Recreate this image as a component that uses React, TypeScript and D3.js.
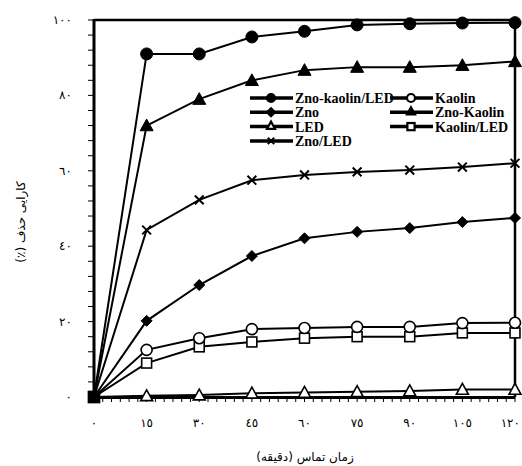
import React from "react";
import * as d3 from "d3";

const times = [0, 15, 30, 45, 60, 75, 90, 105, 120];
const xTickLabels = ["٠", "١٥", "٣٠", "٤٥", "٦٠", "٧٥", "٩٠", "١٠٥", "١٢٠"];
const yTicks = [0, 20, 40, 60, 80, 100];
const yTickLabels = ["٠", "٢٠", "٤٠", "٦٠", "٨٠", "١٠٠"];

const znoKaolinLed = [0, 91, 91, 95.5, 97, 98.7, 99, 99.2, 99.3];
const znoKaolin = [0, 72, 79, 84, 86.7, 87.5, 87.5, 88, 89];
const znoLed = [0, 44.3, 52.3, 57.5, 58.9, 59.7, 60.2, 61, 62];
const zno = [0, 20.2, 29.7, 37.4, 42.1, 43.8, 44.8, 46.4, 47.5];
const kaolin = [0, 12.5, 15.6, 18, 18.3, 18.6, 18.6, 19.6, 19.7];
const kaolinLed = [0, 9, 13.3, 14.6, 15.6, 16, 16, 17, 17];
const led = [0, 0.3, 0.5, 1, 1.2, 1.4, 1.6, 2, 2];

type Shape = "circle" | "diamond" | "triangle" | "cross" | "square";
interface Series { name: string; values: number[]; shape: Shape; filled: boolean; }

const series: Series[] = [
  { name: "LED", values: led, shape: "triangle", filled: false },
  { name: "Kaolin/LED", values: kaolinLed, shape: "square", filled: false },
  { name: "Kaolin", values: kaolin, shape: "circle", filled: false },
  { name: "Zno", values: zno, shape: "diamond", filled: true },
  { name: "Zno/LED", values: znoLed, shape: "cross", filled: true },
  { name: "Zno-Kaolin", values: znoKaolin, shape: "triangle", filled: true },
  { name: "Zno-kaolin/LED", values: znoKaolinLed, shape: "circle", filled: true },
];

const legendCol1 = ["Zno-kaolin/LED", "Zno", "LED", "Zno/LED"];
const legendCol2 = ["Kaolin", "Zno-Kaolin", "Kaolin/LED"];

const W = 522, H = 466;
const x = d3.scaleLinear().domain([0, 120]).range([94, 515]);
const y = d3.scaleLinear().domain([0, 100]).range([397, 20]);

function Marker({ shape, filled, cx, cy, s, sw0 }: { shape: Shape; filled: boolean; cx: number; cy: number; s: number; sw0?: number }) {
  const fill = filled ? "#000" : "#fff";
  const sw = sw0 ?? (filled ? 1 : 1.6);
  if (shape === "circle") return <circle cx={cx} cy={cy} r={s} fill={fill} stroke="#000" strokeWidth={sw} />;
  if (shape === "square") return <rect x={cx - s * 0.9} y={cy - s * 0.9} width={s * 1.8} height={s * 1.8} fill={fill} stroke="#000" strokeWidth={sw} />;
  if (shape === "diamond") return <path d={`M${cx},${cy - s}L${cx + s},${cy}L${cx},${cy + s}L${cx - s},${cy}Z`} fill={fill} stroke="#000" strokeWidth={sw} />;
  if (shape === "triangle") return <path d={`M${cx},${cy - s}L${cx + s},${cy + s * 0.8}L${cx - s},${cy + s * 0.8}Z`} fill={fill} stroke="#000" strokeWidth={sw} />;
  const k = s * 0.8;
  return <path d={`M${cx - k},${cy - k}L${cx + k},${cy + k}M${cx - k},${cy + k}L${cx + k},${cy - k}`} stroke="#000" strokeWidth={2} fill="none" />;
}

const markerSize: Record<string, number> = {
  "Zno-kaolin/LED": 6, "Zno-Kaolin": 6.5, "Zno/LED": 5.5, "Zno": 5.5, "Kaolin": 5.5, "Kaolin/LED": 5.5, "LED": 6,
};

export default function App() {
  const line = d3.line<number>().x((_, i) => x(times[i])).y((v) => y(v));
  const xMinor = d3.range(0, 120.01, 2.5);
  const yMinor = d3.range(0, 100.01, 4);
  const byName = (n: string) => series.find((s) => s.name === n)!;
  const legendRow = (n: string, lx: number, ly: number) => {
    const s = byName(n);
    return (
      <g key={n}>
        <line x1={lx} x2={lx + 43} y1={ly} y2={ly} stroke="#000" strokeWidth={3.5} />
        <Marker shape={s.shape} filled={s.filled} cx={lx + 21} cy={ly - (s.shape === "triangle" ? 1 : 0)} s={4} sw0={2.2} />
        <text x={lx + 45} y={ly + 5} fontFamily="Liberation Serif" fontWeight="bold" fontSize={14}>{n}</text>
      </g>
    );
  };
  return (
    <div style={{ position: "absolute", left: 0, top: 0 }}>
      <svg width={W} height={H} style={{ display: "block", background: "#fff" }}>
        <rect x={0} y={0} width={W} height={H} fill="#fff" />
        {yMinor.map((v) => (
          <line key={"ym" + v} x1={88} x2={94} y1={y(v)} y2={y(v)} stroke="#000" strokeWidth={1} />
        ))}
        {xMinor.map((v) => (
          <line key={"xm" + v} x1={x(v)} x2={x(v)} y1={397} y2={402} stroke="#000" strokeWidth={1} />
        ))}
        <line x1={x(0)} x2={x(120)} y1={y(100)} y2={y(100)} stroke="#000" strokeWidth={2.5} />
        <line x1={x(120)} x2={x(120)} y1={y(100)} y2={y(0)} stroke="#000" strokeWidth={2.5} />
        <line x1={x(0)} x2={x(120)} y1={y(0) + 0.5} y2={y(0) + 0.5} stroke="#000" strokeWidth={3} />
        <line x1={x(0)} x2={x(0)} y1={y(100) - 1} y2={y(0) + 2} stroke="#000" strokeWidth={3} />
        {series.map((s) => (
          <path key={s.name} d={line(s.values) || ""} fill="none" stroke="#000" strokeWidth={2} />
        ))}
        {series.map((s) => (
          <g key={s.name + "m"}>
            {s.values.map((v, i) => (
              <Marker key={i} shape={i === 0 ? "square" : s.shape} filled={i === 0 ? true : s.filled} cx={x(times[i])} cy={y(v)} s={markerSize[s.name]} />
            ))}
          </g>
        ))}
        {legendCol1.map((n, i) => legendRow(n, 250, 98 + i * 14.3))}
        {legendCol2.map((n, i) => legendRow(n, 390, 98 + i * 14.3))}
        {yTicks.map((v, i) => (
          <text key={"yl" + v} x={72} y={y(v) + 4} textAnchor="end" fontFamily="DejaVu Sans" fontSize={12}>{yTickLabels[i]}</text>
        ))}
        {times.map((t, i) => {
          const last = i === times.length - 1;
          return (
            <text key={"xl" + t} x={last ? W - 2 : x(t)} y={427} textAnchor={last ? "end" : "middle"} fontFamily="DejaVu Sans" fontSize={12}>{xTickLabels[i]}</text>
          );
        })}
        <text x={305} y={461} textAnchor="middle" fontFamily="DejaVu Sans" fontSize={12} direction="rtl">زمان تماس (دقیقه)</text>
        <text transform="translate(25,222) rotate(-90)" textAnchor="middle" fontFamily="DejaVu Sans" fontSize={12} direction="rtl">کارایی حذف (٪)</text>
      </svg>
    </div>
  );
}
